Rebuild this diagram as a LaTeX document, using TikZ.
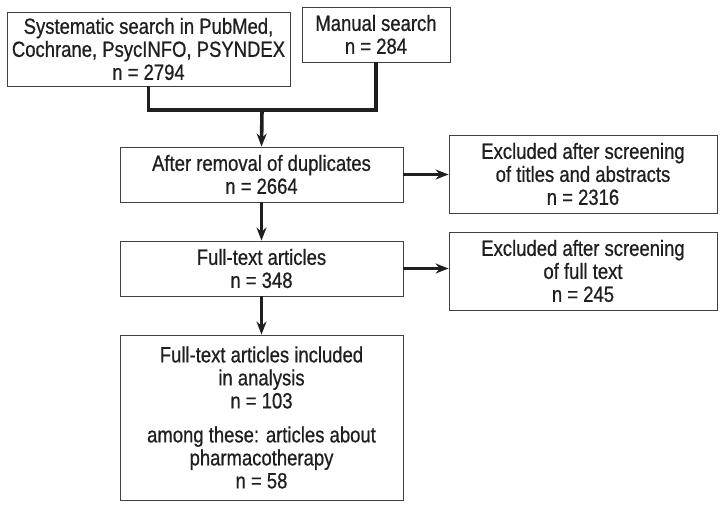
\documentclass[tikz,border=0pt]{standalone}
\usepackage{fontspec}
\setmainfont[FakeStretch=0.84, FakeBold=0.7]{Liberation Sans}
\usepackage{tikz}
\usetikzlibrary{arrows.meta,positioning,calc}

\begin{document}
\begin{tikzpicture}[
    x=1pt, y=1pt,
    box/.style={draw=black!75, line width=0.9pt, fill=white, align=center,
                inner sep=0pt, font=\fontsize{22}{23}\selectfont, text=black!88},
    arr/.style={-{Stealth[length=13pt, width=10pt]}, line width=3.6pt, black!88},
    link/.style={line width=3.6pt, black!88},
]
\useasboundingbox (0,0) rectangle (725,508);

% search boxes
\node[box, minimum width=283, minimum height=74] (search) at (148.5, 459)
    {Systematic search in PubMed,\\ Cochrane, PsycINFO, PSYNDEX\\ n = 2794};
\node[box, minimum width=148, minimum height=55] (manual) at (376, 473.5)
    {Manual search\\ n = 284};

% main column
\node[box, minimum width=283, minimum height=55] (dedup) at (261.5, 333.5)
    {After removal of duplicates\\ n = 2664};
\node[box, minimum width=283, minimum height=55] (fulltext) at (261.5, 239.5)
    {Full-text articles\\ n = 348};
\node[box, minimum width=283, minimum height=165] (included) at (261.5, 90.5)
    {Full-text articles included\\ in analysis\\ n = 103\\[11pt]
     among these: articles about\\ pharmacotherapy\\ n = 58};

% exclusion boxes
\node[box, minimum width=268, minimum height=78] (exclabs) at (583, 334)
    {Excluded after screening\\ of titles and abstracts\\ n = 2316};
\node[box, minimum width=268, minimum height=78] (exclfull) at (583, 237)
    {Excluded after screening\\ of full text\\ n = 245};

% merging the two searches
\coordinate (merge) at (262, 398);
\draw[link] (search.south) |- (merge);
\draw[link] (manual.south) |- (merge);
\draw[arr] (merge) -- (dedup.north);

% flow
\draw[arr] (dedup) -- (fulltext);
\draw[arr] (fulltext) -- (included);
\draw[arr] (dedup.east) -- (dedup.east -| exclabs.west);
\draw[arr] (fulltext.east) -- (fulltext.east -| exclfull.west);
\end{tikzpicture}
\end{document}
